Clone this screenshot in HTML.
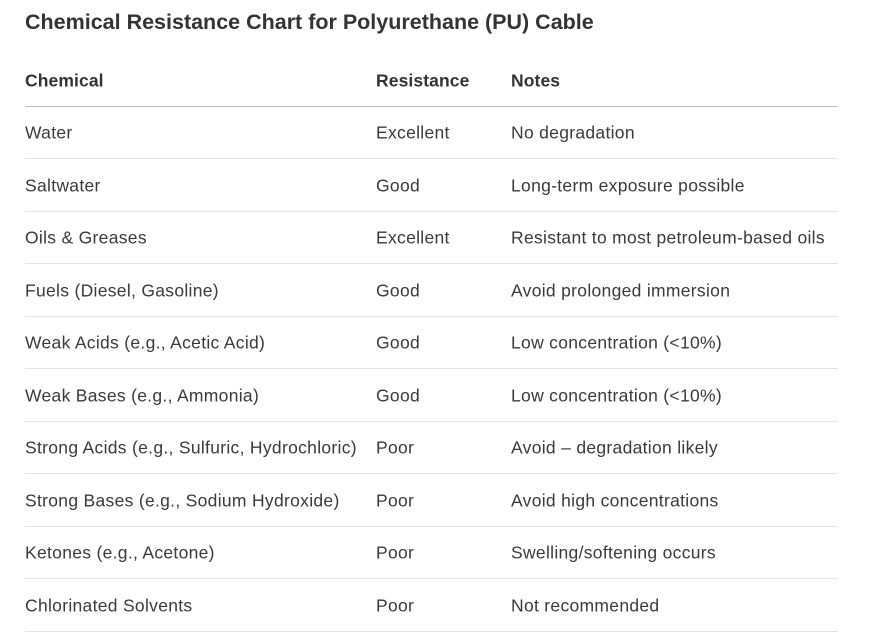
<!DOCTYPE html>
<html><head><meta charset="utf-8">
<style>
html,body{margin:0;padding:0;background:#fff;width:886px;height:636px;overflow:hidden}
body{font-family:"Liberation Sans",sans-serif;color:#3a3a3a;position:relative}
.title{position:absolute;left:25px;top:10px;font-size:21.5px;font-weight:bold;color:#333;white-space:nowrap}
.row{position:absolute;left:25px;width:813px;height:52px;border-bottom:1px solid #e3e3e3;font-size:17.5px;letter-spacing:0.3px}
.row.head{border-bottom:1px solid #bdbdbd;font-weight:bold;color:#333;letter-spacing:0.1px}
.row span{position:absolute;top:calc(50% + 1px);transform:translateY(-50%);white-space:nowrap}
.c1{left:0}.c2{left:351px}.c3{left:486px}
</style></head><body>
<div class="title">Chemical Resistance Chart for Polyurethane (PU) Cable</div>
<div id="tbl"></div>
<script>
const chemicals=["Water","Saltwater","Oils & Greases","Fuels (Diesel, Gasoline)","Weak Acids (e.g., Acetic Acid)","Weak Bases (e.g., Ammonia)","Strong Acids (e.g., Sulfuric, Hydrochloric)","Strong Bases (e.g., Sodium Hydroxide)","Ketones (e.g., Acetone)","Chlorinated Solvents"];
const resistance=["Excellent","Good","Excellent","Good","Good","Good","Poor","Poor","Poor","Poor"];
const notes=["No degradation","Long-term exposure possible","Resistant to most petroleum-based oils","Avoid prolonged immersion","Low concentration (<10%)","Low concentration (<10%)","Avoid \u2013 degradation likely","Avoid high concentrations","Swelling/softening occurs","Not recommended"];
const headers=["Chemical","Resistance","Notes"];
const tbl=document.getElementById('tbl');
function makeRow(cells,top,isHead){
  const r=document.createElement('div');
  r.className='row'+(isHead?' head':'');
  r.style.top=top+'px';
  
  
  cells.forEach((t,i)=>{
    const s=document.createElement('span');
    s.className='c'+(i+1);
    s.textContent=t;
    
    
    r.appendChild(s);
  });
  tbl.appendChild(r);
}
makeRow(headers,54,true);
chemicals.forEach((c,i)=>makeRow([c,resistance[i],notes[i]],106+i*52.5,false));
</script>
</body></html>
